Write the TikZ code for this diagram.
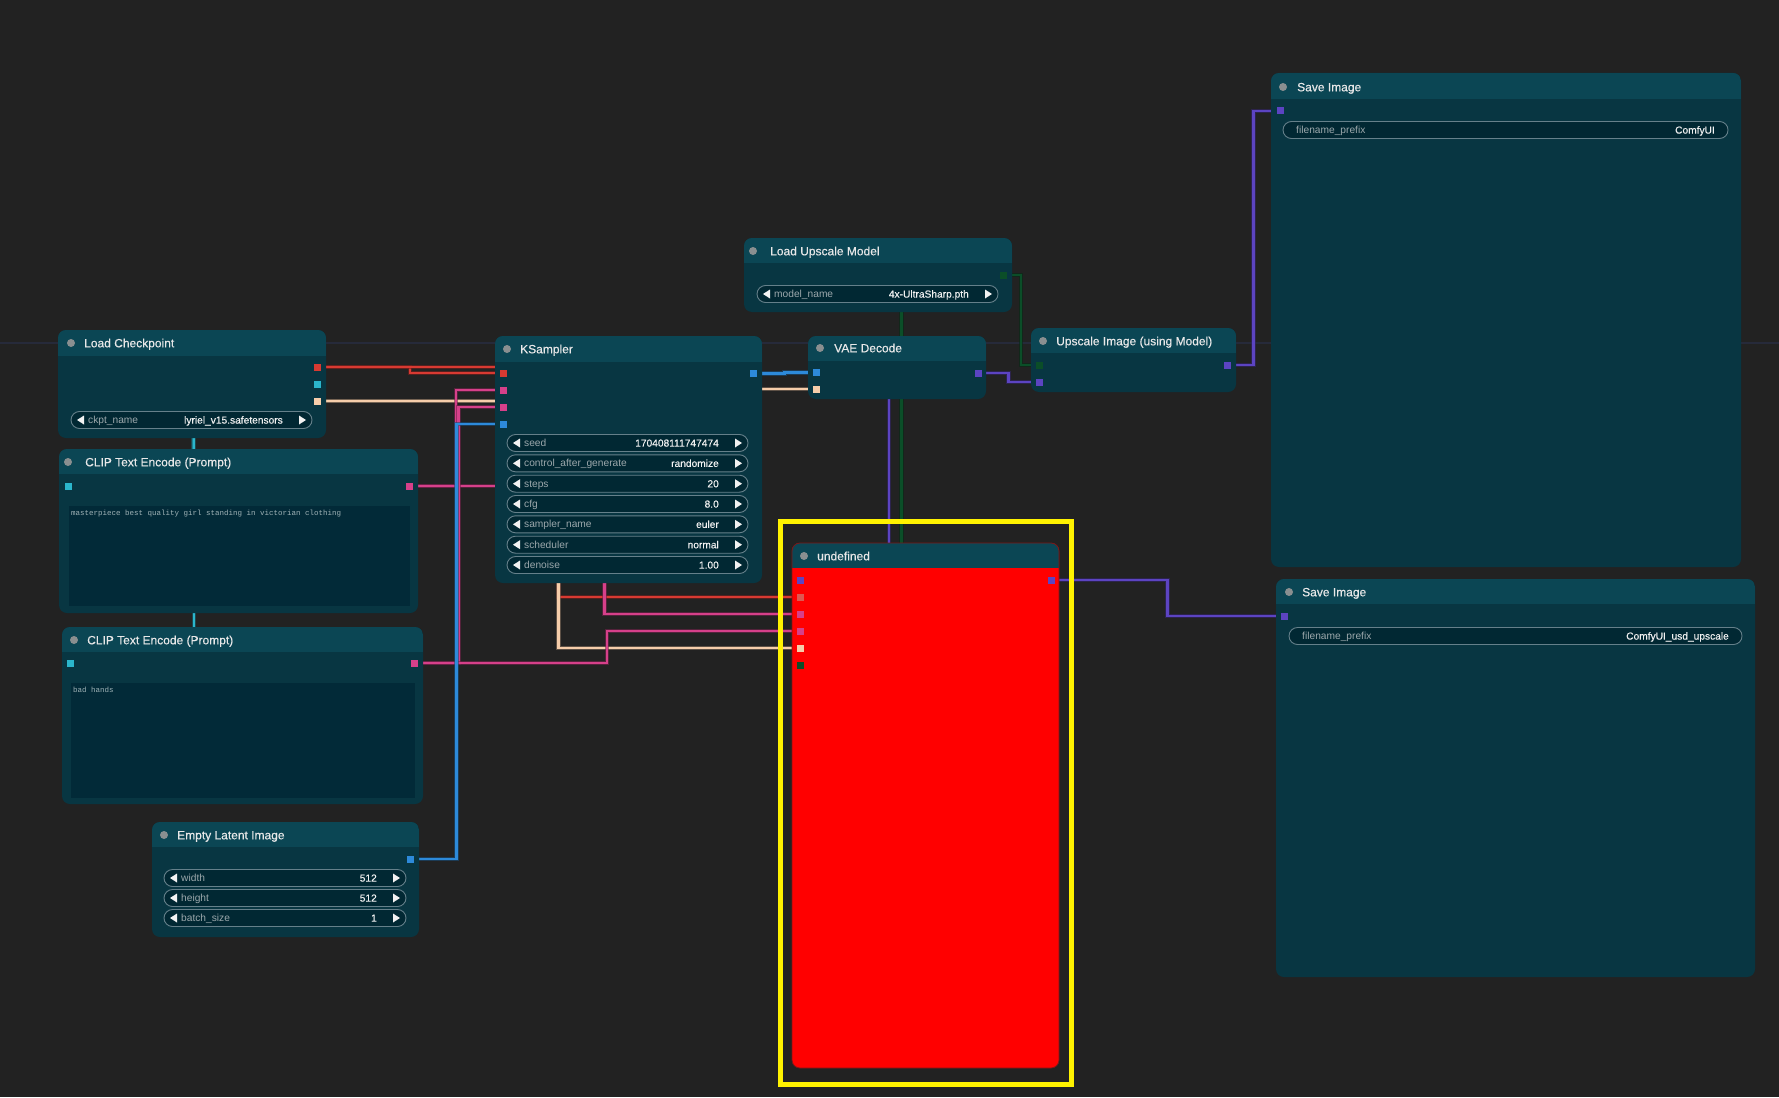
\documentclass[tikz,border=0pt]{standalone}
\usepackage{fontspec}
\setmainfont{Liberation Sans}
\newfontfamily\titlefont[FakeBold=0.35]{Liberation Sans}
\newfontfamily\valfont[FakeBold=0.25]{Liberation Sans}
\newfontfamily\monof{Liberation Mono}
\usetikzlibrary{calc,fit}
\pgfdeclarelayer{bglayer}
\pgfdeclarelayer{wirelayer}
\pgfsetlayers{bglayer,wirelayer,main}
\definecolor{canvas}{HTML}{222222}
\definecolor{guide}{HTML}{262A3A}
\definecolor{nbody}{HTML}{083642}
\definecolor{nhead}{HTML}{0B4654}
\definecolor{tarea}{HTML}{022A38}
\definecolor{wbg}{HTML}{012833}
\definecolor{wborder}{HTML}{65808A}
\definecolor{ttext}{HTML}{E8E8E8}
\definecolor{ltext}{HTML}{9CA8AC}
\definecolor{wval}{HTML}{F2F2F2}
\definecolor{monoc}{HTML}{9FB2B6}
\definecolor{dotc}{HTML}{8A8F90}
\definecolor{cmodel}{HTML}{D83A32}
\definecolor{cclip}{HTML}{2BB6CC}
\definecolor{cvae}{HTML}{F6CDAA}
\definecolor{ccond}{HTML}{D6408A}
\definecolor{clat}{HTML}{2D8ADA}
\definecolor{cup}{HTML}{0B4E28}
\definecolor{cimg}{HTML}{5C44C2}
\definecolor{yel}{HTML}{FFF200}
\definecolor{undefred}{HTML}{FF0000}
\definecolor{undefborder}{HTML}{7A1818}
\newcommand\cnode[7]{%
  \fill[#7, rounded corners=8pt] (#2,#3) rectangle (#4,#5);
  \begin{scope}
    \clip[rounded corners=8pt] (#2,#3) rectangle (#4,#5);
    \fill[nhead] (#2,#3) rectangle (#4,#6);
  \end{scope}
  \node[fit={(#2,#3) (#4,#5)}, inner sep=0pt] (#1) {};
}
\newcommand\ctitle[5]{%
  \fill[dotc] (#2,#4) circle (4pt);
  \node[titletext, anchor=base west] (#1) at (#3,#4+4.3) {#5};
}
\newcommand\cwidget[6]{%
  \draw[wborder, fill=wbg, line width=0.9pt, rounded corners=8.5pt] (#2,#4-8.5) rectangle (#3,#4+8.5);
  \fill[wval] (#2+6,#4) -- (#2+13,#4-4.5) -- (#2+13,#4+4.5) -- cycle;
  \fill[wval] (#3-6,#4) -- (#3-13,#4-4.5) -- (#3-13,#4+4.5) -- cycle;
  \node[wlabel, anchor=base west] (#1-l) at (#2+17,#4+3.6) {#5};
  \node[wvalue, anchor=base east] (#1-v) at (#3-29,#4+3.6) {#6};
}
\newcommand\swidget[6]{%
  \draw[wborder, fill=wbg, line width=0.9pt, rounded corners=8.5pt] (#2,#4-8.5) rectangle (#3,#4+8.5);
  \node[wlabel, anchor=base west] (#1-l) at (#2+13,#4+3.6) {#5};
  \node[wvalue, anchor=base east] (#1-v) at (#3-13,#4+3.6) {#6};
}
\newcommand\wire[4]{%
  \begin{pgfonlayer}{wirelayer}
    \draw[wire=#1] let \p1=(#2.center), \p2=(#4.center) in (\p1) -- (#3pt,\y1) -- (#3pt,\y2) -- (\p2);
  \end{pgfonlayer}
}
\begin{document}
\begin{tikzpicture}[x=1pt,y=-1pt,
  slot/.style={rectangle, minimum size=7pt, inner sep=0pt},
  titletext/.style={inner sep=0pt, text=ttext, font=\titlefont\fontsize{12}{14}\selectfont},
  wlabel/.style={inner sep=0pt, text=ltext, font=\fontsize{10.2}{12}\selectfont},
  wvalue/.style={inner sep=0pt, text=wval, font=\valfont\fontsize{10.2}{12}\selectfont},
  mono/.style={inner sep=0pt, text=monoc, font=\monof\fontsize{7.5}{9}\selectfont},
  wire/.style={draw=#1, line width=2.6pt, preaction={draw=#1!55!black, draw opacity=0.6, line width=4.2pt}},
]
\useasboundingbox (0,0) rectangle (1779,1097);
\begin{pgfonlayer}{bglayer}
  \fill[canvas] (0,0) rectangle (1779,1097);
  \draw[guide, line width=1.2pt] (0,343) -- (1779,343);
\end{pgfonlayer}

% Load Checkpoint
\cnode{lc}{58}{330}{326}{438}{356}{nbody}
\ctitle{lct}{71}{84}{343}{Load Checkpoint}
\node[slot, fill=cmodel] (lc-model) at (317,367) {};
\node[slot, fill=cclip] (lc-clip) at (317,384) {};
\node[slot, fill=cvae] (lc-vae) at (317,401) {};
\cwidget{lcw}{71}{312}{420}{ckpt\_name}{lyriel\_v15.safetensors}

% CLIP Text Encode 1
\cnode{c1}{59}{449}{418}{613}{474}{nbody}
\ctitle{c1t}{68}{85}{462}{CLIP Text Encode (Prompt)}
\node[slot, fill=cclip] (c1-in) at (68,486) {};
\node[slot, fill=ccond] (c1-out) at (409,486) {};
\fill[tarea] (69,506) rectangle (410,606);
\node[mono, anchor=base west] (c1-text) at (71,515.5) {masterpiece best quality girl standing in victorian clothing};

% CLIP Text Encode 2
\cnode{c2}{62}{627}{423}{804}{652}{nbody}
\ctitle{c2t}{74}{87}{640}{CLIP Text Encode (Prompt)}
\node[slot, fill=cclip] (c2-in) at (70,663) {};
\node[slot, fill=ccond] (c2-out) at (414,663) {};
\fill[tarea] (71,683) rectangle (415,798);
\node[mono, anchor=base west] (c2-text) at (73,692.5) {bad hands};

% Empty Latent Image
\cnode{el}{152}{822}{419}{937}{847}{nbody}
\ctitle{elt}{164}{177}{835}{Empty Latent Image}
\node[slot, fill=clat] (el-out) at (410,859) {};
\cwidget{elw1}{164}{406}{878}{width}{512}
\cwidget{elw2}{164}{406}{898}{height}{512}
\cwidget{elw3}{164}{406}{918}{batch\_size}{1}

% KSampler
\cnode{ks}{495}{336}{762}{583}{362}{nbody}
\ctitle{kst}{507}{520}{349}{KSampler}
\node[slot, fill=cmodel] (ks-model) at (503,373) {};
\node[slot, fill=ccond] (ks-pos) at (503,390) {};
\node[slot, fill=ccond] (ks-neg) at (503,407) {};
\node[slot, fill=clat] (ks-lat) at (503,424) {};
\node[slot, fill=clat] (ks-out) at (753,373.5) {};
\cwidget{ksw1}{507}{748}{443}{seed}{170408111747474}
\cwidget{ksw2}{507}{748}{463.3}{control\_after\_generate}{randomize}
\cwidget{ksw3}{507}{748}{483.7}{steps}{20}
\cwidget{ksw4}{507}{748}{504}{cfg}{8.0}
\cwidget{ksw5}{507}{748}{524.3}{sampler\_name}{euler}
\cwidget{ksw6}{507}{748}{544.7}{scheduler}{normal}
\cwidget{ksw7}{507}{748}{565}{denoise}{1.00}

% Load Upscale Model
\cnode{lum}{744}{238}{1012}{312}{263}{nbody}
\ctitle{lumt}{753}{770}{251}{Load Upscale Model}
\node[slot, fill=cup] (lum-out) at (1003,275) {};
\cwidget{lumw}{757}{998}{294}{model\_name}{4x-UltraSharp.pth}

% VAE Decode
\cnode{vd}{808}{336}{986}{399}{361}{nbody}
\ctitle{vdt}{820}{834}{348}{VAE Decode}
\node[slot, fill=clat] (vd-lat) at (816,372.5) {};
\node[slot, fill=cvae] (vd-vae) at (816,389) {};
\node[slot, fill=cimg] (vd-out) at (978,373) {};

% Upscale Image
\cnode{up}{1031}{328}{1236}{392}{353}{nbody}
\ctitle{upt}{1043}{1056}{341}{Upscale Image (using Model)}
\node[slot, fill=cup] (up-model) at (1039,365) {};
\node[slot, fill=cimg] (up-img) at (1039,382) {};
\node[slot, fill=cimg] (up-out) at (1227,365) {};

% Save Image 1
\cnode{s1}{1271}{73}{1741}{567}{99}{nbody}
\ctitle{s1t}{1283}{1297}{87}{Save Image}
\node[slot, fill=cimg] (s1-in) at (1280,111) {};
\swidget{s1w}{1283}{1728}{130}{filename\_prefix}{ComfyUI}

% Save Image 2
\cnode{s2}{1276}{579}{1755}{977}{604}{nbody}
\ctitle{s2t}{1289}{1302}{592}{Save Image}
\node[slot, fill=cimg] (s2-in) at (1284,616) {};
\swidget{s2w}{1289}{1742}{636}{filename\_prefix}{ComfyUI\_usd\_upscale}

% undefined
\cnode{un}{792}{543}{1059}{1068}{568}{undefred}
\draw[undefborder, line width=0.8pt, rounded corners=8pt] (792,543) rectangle (1059,1068);
\ctitle{unt}{804}{817}{556}{undefined}
\node[slot, fill=cimg] (un-img) at (800,580) {};
\node[slot, fill=cmodel!85!white] (un-model) at (800,597) {};
\node[slot, fill=ccond] (un-pos) at (800,614) {};
\node[slot, fill=ccond] (un-neg) at (800,631) {};
\node[slot, fill=cvae] (un-vae) at (800,648) {};
\node[slot, fill=cup] (un-up) at (800,665) {};
\node[slot, fill=cimg] (un-out) at (1051,580) {};

% links
\wire{cclip}{lc-clip}{193}{c1-in}
\wire{cclip}{lc-clip}{194}{c2-in}
\wire{cmodel}{lc-model}{410}{ks-model}
\wire{cmodel}{lc-model}{558.5}{un-model}
\wire{cvae}{lc-vae}{566.5}{vd-vae}
\wire{cvae}{lc-vae}{558.5}{un-vae}
\wire{ccond}{c1-out}{456}{ks-pos}
\wire{ccond}{c1-out}{604.5}{un-pos}
\wire{ccond}{c2-out}{458.5}{ks-neg}
\wire{ccond}{c2-out}{607}{un-neg}
\wire{clat}{el-out}{456.5}{ks-lat}
\wire{clat}{ks-out}{784.5}{vd-lat}
\wire{cup}{lum-out}{1021}{up-model}
\wire{cup}{lum-out}{901.5}{un-up}
\wire{cimg}{vd-out}{1008.5}{up-img}
\wire{cimg}{vd-out}{889}{un-img}
\wire{cimg}{up-out}{1253.5}{s1-in}
\wire{cimg}{un-out}{1167.5}{s2-in}

% highlight frame
\draw[yel, line width=5pt] (780.5,521.5) rectangle (1071.5,1084.5);
\end{tikzpicture}
\end{document}
